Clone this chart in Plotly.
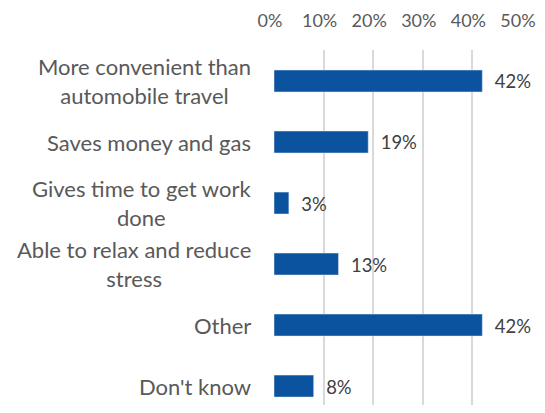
import plotly.graph_objects as go

categories = ["More convenient than<br>automobile travel", "Saves money and gas",
              "Gives time to get work<br>done", "Able to relax and reduce<br>stress",
              "Other", "Don't know"]
values = [42, 19, 3, 13, 42, 8]
tick_vals = [0, 10, 20, 30, 40, 50]
tick_text = ["0%", "10%", "20%", "30%", "40%", "50%"]

fig = go.Figure(go.Bar(
    y=categories, x=values, orientation="h",
    marker=dict(color="#0B539E"),
    width=0.36,
    text=["\u00a0\u00a0" + f"{v}%" for v in values], textposition="outside",
    textfont=dict(size=21, color="#404040"),
    cliponaxis=False,
))
for c in categories:
    fig.add_annotation(x=0, xref="paper", y=c, yref="y", text=c, showarrow=False,
                       xanchor="right", xshift=-21, align="center",
                       font=dict(family="Lato", size=22, color="#595959"))
fig.update_layout(
    width=537, height=397,
    margin=dict(l=266, r=23, t=42, b=0),
    paper_bgcolor="white", plot_bgcolor="white",
    font=dict(family="Lato", size=21, color="#595959"),
    showlegend=False,
    xaxis=dict(side="top", range=[0, 50], tickvals=tick_vals, ticktext=tick_text,
               showgrid=True, gridcolor="#D9D9D9", gridwidth=2, zeroline=False,
               ticklabelstandoff=18, ticklabelshift=-4, showline=False, automargin=False,
               tickfont=dict(size=18)),
    yaxis=dict(range=[5.31, -0.508], showgrid=False, zeroline=False, showline=False,
               showticklabels=False, automargin=False),
)
fig.write_html("out.html")
